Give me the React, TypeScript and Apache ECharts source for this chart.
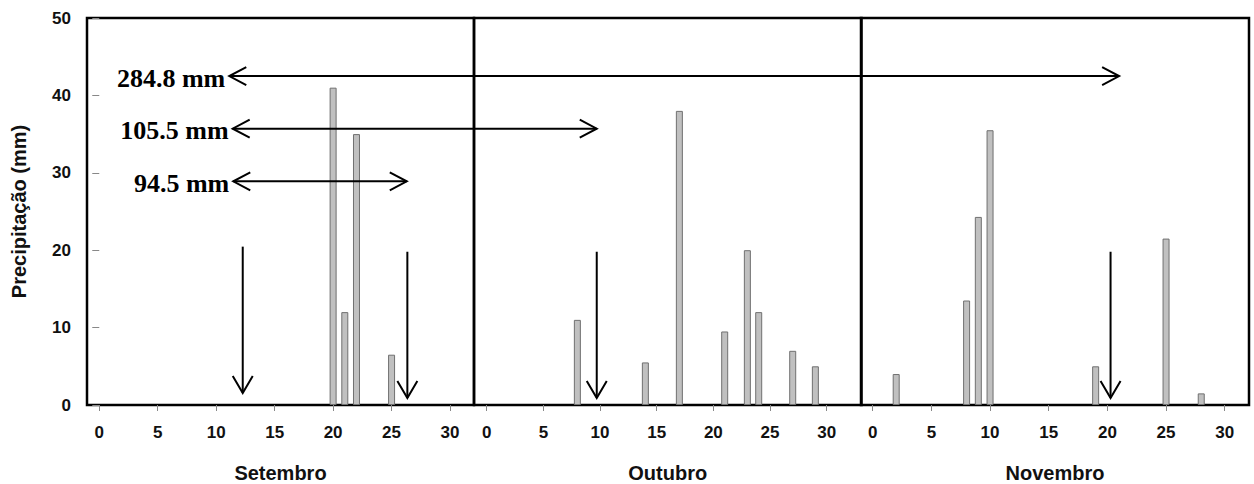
import React, { useEffect, useRef } from "react";
import * as echarts from "echarts";

// ---- data ----
const months = ["Setembro", "Outubro", "Novembro"];
const sepDays = [20, 21, 22, 25];
const sepRain = [41, 12, 35, 6.5];
const octDays = [8, 14, 17, 21, 23, 24, 27, 29];
const octRain = [11, 5.5, 38, 9.5, 20, 12, 7, 5];
const novDays = [2, 8, 9, 10, 19, 25, 28];
const novRain = [4, 13.5, 24.3, 35.5, 5, 21.5, 1.5];
const xTicks = [0, 5, 10, 15, 20, 25, 30];
const yTicks = [0, 10, 20, 30, 40, 50];

// cumulative-rain annotations (panel index, day, mm)
const totalLabels = ["284.8 mm", "105.5 mm", "94.5 mm"];
const totalLevels = [42.5, 35.7, 28.9];
const totalStart = [[0, 11.12], [0, 11.41], [0, 11.46]];
const totalEnd = [[2, 21.0], [1, 9.71], [0, 26.3]];
// event arrows (panel, day, top mm, bottom mm)
const eventArrows = [
  [0, 12.27, 20.46, 1.55],
  [0, 26.35, 19.8, 0.9],
  [1, 9.71, 19.8, 0.9],
  [2, 20.27, 19.8, 0.9],
];

const panelDays = [sepDays, octDays, novDays];
const panelRain = [sepRain, octRain, novRain];
const gridLefts = [87, 474, 861];
const gridWidths = [387, 387.5, 388];
const xMins = [-1.05, -1.12, -1.0];
const xMaxs = [32.05, 33.07, 32.07];

export default function App() {
  const ref = useRef<HTMLDivElement>(null);
  useEffect(() => {
    if (!ref.current) return;
    const chart = echarts.init(ref.current, undefined, { renderer: "svg" });
    const sans = "Liberation Sans, Arial, sans-serif";
    const grids = gridLefts.map((l, i) => ({
      left: l,
      top: 18,
      width: gridWidths[i],
      height: 387,
      show: true,
      borderColor: "#000",
      borderWidth: 2.5,
      backgroundColor: "transparent",
      containLabel: false,
      outerBoundsMode: "none",
    }));
    const xAxes = months.map((m, i) => ({
      type: "value",
      gridIndex: i,
      min: xMins[i],
      max: xMaxs[i],
      name: m,
      nameLocation: "middle",
      nameGap: 58,
      nameTextStyle: { fontFamily: sans, fontWeight: "bold", fontSize: 20, color: "#111" },
      axisLine: { show: false },
      splitLine: { show: false },
      axisTick: {
        show: true,
        customValues: xTicks,
        length: 6,
        lineStyle: { color: "#888", width: 1 },
      },
      axisLabel: {
        customValues: xTicks,
        margin: 19,
        fontFamily: sans,
        fontWeight: "bold",
        fontSize: 17,
        color: "#111",
      },
    }));
    const yAxes = months.map((_, i) => ({
      type: "value",
      gridIndex: i,
      min: yTicks[0],
      max: yTicks[yTicks.length - 1],
      interval: 10,
      show: i === 0,
      name: i === 0 ? "Precipitação (mm)" : "",
      nameLocation: "middle",
      nameGap: 58,
      nameTextStyle: { fontFamily: sans, fontWeight: "bold", fontSize: 20, color: "#111" },
      axisLine: { show: false },
      splitLine: { show: false },
      axisTick: { show: true, length: 7, lineStyle: { color: "#888", width: 1 } },
      axisLabel: {
        margin: 16,
        fontFamily: sans,
        fontWeight: "bold",
        fontSize: 17,
        color: "#111",
      },
    }));
    const series = months.map((m, i) => ({
      type: "bar",
      name: m,
      xAxisIndex: i,
      yAxisIndex: i,
      barWidth: 7,
      data: panelDays[i].map((d, k) => [d, panelRain[i][k]]),
      itemStyle: { color: "#c0c0c0", borderColor: "#707070", borderWidth: 1 },
    }));
    chart.setOption({
      animation: false,
      backgroundColor: "#fff",
      grid: grids,
      xAxis: xAxes,
      yAxis: yAxes,
      series,
    });

    const px = (panel: number, x: number, y: number) =>
      chart.convertToPixel({ gridIndex: panel }, [x, y]) as number[];
    const stroke = { stroke: "#000", lineWidth: 2 };
    const graphics: any[] = [];
    totalLabels.forEach((label, i) => {
      const a = px(totalStart[i][0], totalStart[i][1], totalLevels[i]);
      const b = px(totalEnd[i][0], totalEnd[i][1], totalLevels[i]);
      graphics.push({ type: "line", shape: { x1: a[0], y1: a[1], x2: b[0], y2: b[1] }, style: stroke, z: 100 });
      graphics.push({
        type: "polyline",
        shape: { points: [[a[0] + 17, a[1] - 9], [a[0], a[1]], [a[0] + 17, a[1] + 9]] },
        style: { ...stroke, fill: null },
        z: 100,
      });
      graphics.push({
        type: "polyline",
        shape: { points: [[b[0] - 17, b[1] - 9], [b[0], b[1]], [b[0] - 17, b[1] + 9]] },
        style: { ...stroke, fill: null },
        z: 100,
      });
      graphics.push({
        type: "text",
        z: 100,
        style: {
          text: label,
          x: a[0] - 4,
          y: a[1] + 2,
          align: "right",
          verticalAlign: "middle",
          fontFamily: "Liberation Serif, Times New Roman, serif",
          fontWeight: "bold",
          fontSize: 26,
          fill: "#000",
        },
      });
    });
    eventArrows.forEach(([p, d, t, bo]) => {
      const a = px(p, d, t);
      const b = px(p, d, bo);
      graphics.push({ type: "line", shape: { x1: a[0], y1: a[1], x2: b[0], y2: b[1] }, style: stroke, z: 100 });
      graphics.push({
        type: "polyline",
        shape: { points: [[b[0] - 10, b[1] - 17], [b[0], b[1]], [b[0] + 10, b[1] - 17]] },
        style: { ...stroke, fill: null },
        z: 100,
      });
    });
    chart.setOption({ graphic: graphics });
    return () => chart.dispose();
  }, []);
  return (
    <div
      ref={ref}
      style={{ position: "absolute", left: 0, top: 0, width: 1254, height: 484 }}
    />
  );
}
